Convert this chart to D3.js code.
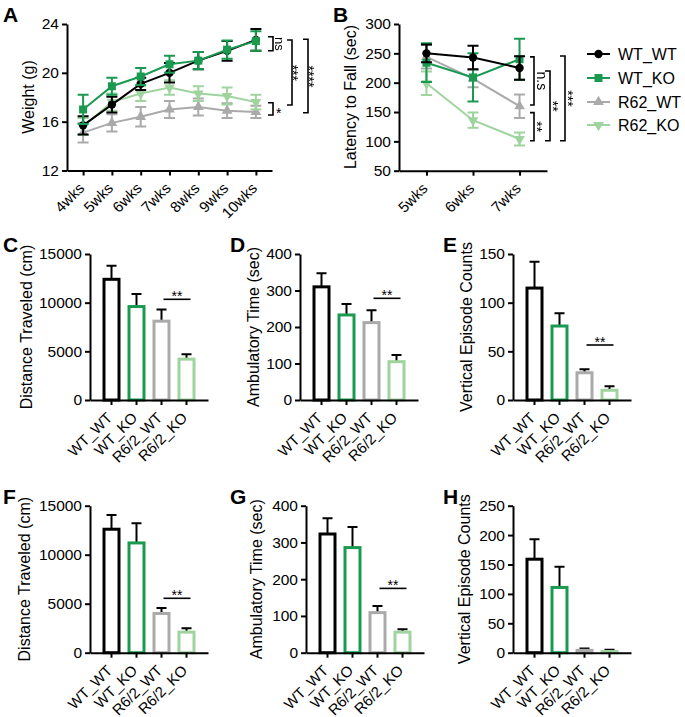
<!DOCTYPE html>
<html><head><meta charset="utf-8">
<script src="https://cdn.jsdelivr.net/npm/d3@7"></script>
<style>
body{margin:0;background:#fff;}
svg text{font-family:"Liberation Sans",Arial,Helvetica,sans-serif;fill:#000;}
.rot{filter:grayscale(1);}
</style></head><body>
<svg id="fig" width="685" height="717"></svg>
<script>
// ---------- data ----------
const seriesNames = ["WT_WT","WT_KO","R62_WT","R62_KO"];
const seriesColors = ["#000000","#1a9a50","#aaaaaa","#9fd49f"];
const seriesSymbols = ["circle","square","triUp","triDown"];

const weeksA = ["4wks","5wks","6wks","7wks","8wks","9wks","10wks"];
const A_WT_WT  = [15.7,17.4,19.1,20.0,21.0,21.8,22.7];
const A_WT_WT_err = [0.75,0.65,0.5,0.8,0.7,0.8,0.9];
const A_WT_KO  = [17.0,18.9,19.7,20.7,21.0,21.9,22.6];
const A_WT_KO_err = [1.2,0.7,0.7,0.7,0.7,0.75,0.8];
const A_R62_WT = [15.1,15.9,16.4,17.0,17.2,16.9,16.8];
const A_R62_WT_err = [0.8,0.7,0.8,0.7,0.7,0.6,0.5];
const A_R62_KO = [15.6,17.6,18.3,18.8,18.3,18.1,17.6];
const A_R62_KO_err = [0.7,0.7,0.6,0.6,0.6,0.7,0.6];
const ticksA = [12,16,20,24];

const weeksB = ["5wks","6wks","7wks"];
const B_WT_WT  = [250,243,225];
const B_WT_WT_err = [15,20,20];
const B_WT_KO  = [234,209,240];
const B_WT_KO_err = [33,41,35];
const B_R62_WT = [244,207,160];
const B_R62_WT_err = [20,15,20];
const B_R62_KO = [199,136,104];
const B_R62_KO_err = [20,13,11];
const ticksB = [50,100,150,200,250,300];

const barGroups = ["WT_WT","WT_KO","R6/2_WT","R6/2_KO"];
const C_vals = [12400,9600,8100,4200], C_err = [1400,1300,1200,500];
const D_vals = [310,233,212,105],     D_err = [37,30,34,18];
const E_vals = [115,76,28,10],        E_err = [27,13,3.5,4];
const F_vals = [12600,11200,4000,2100], F_err = [1450,2000,550,400];
const G_vals = [323,286,109,56],      G_err = [43,56,18,8];
const H_vals = [159,111,4,2],         H_err = [34,35,3,3];

// ---------- helpers ----------
const svg = d3.select("#fig");
function styleAxis(g, fs){
  g.select(".domain").attr("stroke","#000").attr("stroke-width",2);
  g.selectAll(".tick line").attr("stroke","#000").attr("stroke-width",2);
  g.selectAll(".tick text").attr("font-size",fs).attr("fill","#000");
}
function panelLabel(t,x,y){
  svg.append("text").attr("x",x).attr("y",y).attr("font-size",21).attr("font-weight","bold").text(t);
}
function yTitle(t,x,y){
  svg.append("text").attr("transform",`translate(${x},${y}) rotate(-90)`)
    .attr("text-anchor","middle").attr("font-size",16).text(t);
}
function symbolPath(kind){
  if(kind==="circle") return d3.symbol(d3.symbolCircle,55)();
  if(kind==="square") return d3.symbol(d3.symbolSquare,64)();
  return d3.symbol(d3.symbolTriangle,50)();
}
function bracket(x, y1, y2, w){
  svg.append("path").attr("d",`M${x-w},${y1}H${x}V${y2}H${x-w}`)
    .attr("fill","none").attr("stroke","#000").attr("stroke-width",1.6);
}
function rotText(t,x,y,fs){
  svg.append("text").attr("class","rot").attr("transform",`translate(${x},${y}) rotate(90)`)
    .attr("text-anchor","middle").attr("font-size",fs).text(t);
}
function xLabels(xAx){
  xAx.selectAll(".tick text").attr("x",0).attr("y",0).attr("dy","0.35em")
    .attr("text-anchor","end").attr("transform","translate(-2,15) rotate(-45)");
}

function linePanel(x, y, cats, data, errs, order, yTicks){
  const xAx = svg.append("g").attr("transform",`translate(0,${y.range()[0]})`)
    .call(d3.axisBottom(x).tickSize(5).tickSizeOuter(0).tickPadding(3));
  styleAxis(xAx,15);
  xLabels(xAx);
  const yAx = svg.append("g").attr("transform",`translate(${x.range()[0]},0)`)
    .call(d3.axisLeft(y).tickValues(yTicks).tickSize(5).tickSizeOuter(0).tickPadding(3).tickFormat(d3.format("d")));
  styleAxis(yAx,15.5);
  order.forEach(i=>{
    const col = seriesColors[i];
    const pts = cats.map((c,j)=>({c, v:data[i][j], e:errs[i][j]}));
    const g = svg.append("g");
    g.append("path").datum(pts)
      .attr("d", d3.line().x(d=>x(d.c)).y(d=>y(d.v)))
      .attr("fill","none").attr("stroke",col).attr("stroke-width",2);
    pts.forEach(d=>{
      const cx = x(d.c), t = y(d.v+d.e), b = y(d.v-d.e);
      g.append("path").attr("d",`M${cx},${t}V${b}M${cx-5.5},${t}H${cx+5.5}M${cx-5.5},${b}H${cx+5.5}`)
        .attr("stroke",col).attr("stroke-width",2).attr("fill","none");
    });
    pts.forEach(d=>{
      const rot = seriesSymbols[i]==="triDown" ? " rotate(180)" : "";
      g.append("path").attr("d",symbolPath(seriesSymbols[i]))
        .attr("transform",`translate(${x(d.c)},${y(d.v)})${rot}`).attr("fill",col);
    });
  });
}

// ---------- Panel A ----------
const xA = d3.scalePoint().domain(weeksA).range([67,272]).padding(0.559);
const yA = d3.scaleLinear().domain([12,24]).range([170.5,24]);
linePanel(xA,yA,weeksA,[A_WT_WT,A_WT_KO,A_R62_WT,A_R62_KO],
  [A_WT_WT_err,A_WT_KO_err,A_R62_WT_err,A_R62_KO_err],[2,3,0,1],ticksA);
panelLabel("A",3,22);
yTitle("Weight (g)",34,97);
bracket(273,yA(22.96),yA(21.81),5); rotText("ns",275,yA(22.38),13);
bracket(273,yA(17.55),yA(16.55),5);
svg.append("text").attr("x",276).attr("y",yA(17.05)+9).attr("font-size",14).text("*");
bracket(292,yA(22.69),yA(17.36),5); rotText("***",288,yA(20.0),14);
bracket(308,yA(22.75),yA(16.73),5); rotText("****",304,yA(19.7),14);

// ---------- Panel B ----------
const xB = d3.scalePoint().domain(weeksB).range([399,547]).padding(0.59);
const yB = d3.scaleLinear().domain([50,300]).range([170.7,24]);
linePanel(xB,yB,weeksB,[B_WT_WT,B_WT_KO,B_R62_WT,B_R62_KO],
  [B_WT_WT_err,B_WT_KO_err,B_R62_WT_err,B_R62_KO_err],[3,2,1,0],ticksB);
panelLabel("B",333,22);
yTitle("Latency to Fall (sec)",356,97);
bracket(534,yB(244),yB(162),4); rotText("n.s",537,yB(203),14);
bracket(534,yB(149),yB(101),4); rotText("**",532,yB(125),14);
bracket(550,yB(220),yB(101),5); rotText("**",548,yB(160),14);
bracket(565,yB(245.5),yB(101),5); rotText("***",563,yB(173),14);

// legend
const legY = [54,78,102,125];
seriesNames.forEach((n,i)=>{
  const g = svg.append("g").attr("transform",`translate(0,${legY[i]})`);
  g.append("line").attr("x1",587).attr("x2",610).attr("stroke",seriesColors[i]).attr("stroke-width",2);
  const rot = seriesSymbols[i]==="triDown" ? " rotate(180)" : "";
  g.append("path").attr("d",symbolPath(seriesSymbols[i])).attr("transform",`translate(598.5,0)${rot}`).attr("fill",seriesColors[i]);
  g.append("text").attr("x",618).attr("y",5.5).attr("font-size",16).text(n);
});

// ---------- bar panels ----------
const barPanels = [
  {lab:"C",lx:3,  ly:252, ax:90,  top:254,   bot:400,   max:15000, step:5000, vals:C_vals, errs:C_err, title:"Distance Traveled (cm)", tx:32,  sig:10345},
  {lab:"D",lx:230,ly:252, ax:300, top:254,   bot:400,   max:400,   step:100,  vals:D_vals, errs:D_err, title:"Ambulatory Time (sec)", tx:259, sig:278.6},
  {lab:"E",lx:443,ly:252, ax:513, top:254,   bot:400,   max:150,   step:50,   vals:E_vals, errs:E_err, title:"Vertical Episode Counts", tx:472, sig:56.5},
  {lab:"F",lx:3,  ly:504, ax:90,  top:505.7, bot:652.7, max:15000, step:5000, vals:F_vals, errs:F_err, title:"Distance Traveled (cm)", tx:30,  sig:5551},
  {lab:"G",lx:230,ly:504, ax:306, top:505.7, bot:652.7, max:400,   step:100,  vals:G_vals, errs:G_err, title:"Ambulatory Time (sec)", tx:262, sig:175},
  {lab:"H",lx:443,ly:504, ax:513, top:505.7, bot:652.7, max:250,   step:50,   vals:H_vals, errs:H_err, title:"Vertical Episode Counts", tx:470, sig:null}
];
barPanels.forEach(p=>{
  const x = d3.scaleBand().domain(barGroups).range([p.ax,p.ax+118]).paddingInner(0.28).paddingOuter(0.5);
  const y = d3.scaleLinear().domain([0,p.max]).range([p.bot,p.top]);
  const bw = x.bandwidth();
  barGroups.forEach((c,i)=>{
    const v = p.vals[i], e = p.errs[i];
    const cx = x(c)+bw/2;
    svg.append("path").attr("d",`M${cx},${y(v)}V${y(v+e)}M${cx-5},${y(v+e)}H${cx+5}`)
      .attr("stroke","#000").attr("stroke-width",2).attr("fill","none");
    svg.append("rect").attr("x",x(c)+1.5).attr("y",y(v)).attr("width",bw-3).attr("height",Math.max(0,y(0)-y(v)))
      .attr("fill","#fff").attr("stroke",seriesColors[i]).attr("stroke-width",3);
  });
  const xAx = svg.append("g").attr("transform",`translate(0,${p.bot})`)
    .call(d3.axisBottom(x).tickSize(5).tickSizeOuter(0).tickPadding(3));
  styleAxis(xAx,15);
  xLabels(xAx);
  const ticks = d3.range(0,p.max+1,p.step);
  const yAx = svg.append("g").attr("transform",`translate(${p.ax},0)`)
    .call(d3.axisLeft(y).tickValues(ticks).tickSize(5).tickSizeOuter(0).tickPadding(3).tickFormat(d3.format("d")));
  styleAxis(yAx,15.5);
  panelLabel(p.lab,p.lx,p.ly);
  yTitle(p.title,p.tx,(p.top+p.bot)/2);
  if(p.sig!==null){
    const x1 = x(barGroups[2])+bw/2+2, x2 = x(barGroups[3])+bw/2+4;
    svg.append("line").attr("x1",x1).attr("x2",x2).attr("y1",y(p.sig)).attr("y2",y(p.sig))
      .attr("stroke","#000").attr("stroke-width",1.6);
    svg.append("text").attr("x",(x1+x2)/2).attr("y",y(p.sig)+2).attr("text-anchor","middle")
      .attr("font-size",14).text("**");
  }
});
</script>
</body></html>
